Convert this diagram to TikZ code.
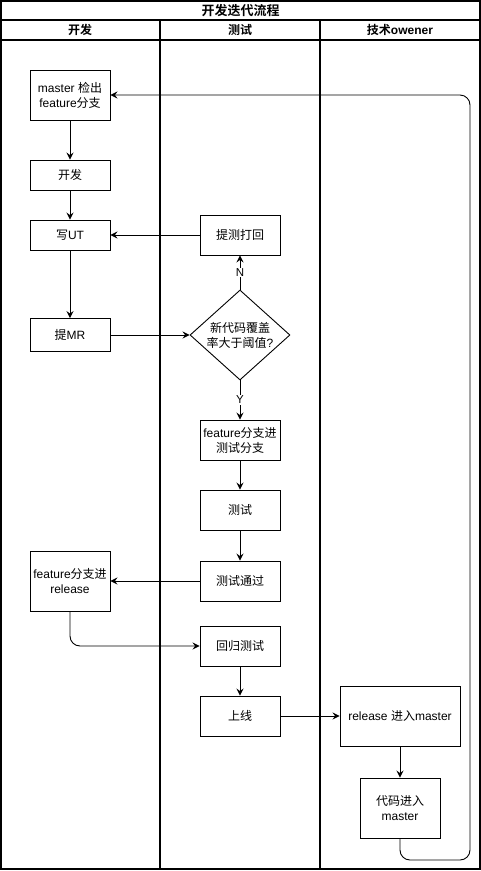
\documentclass[tikz,border=0pt]{standalone}
\usepackage{fontspec}
\setmainfont{Liberation Sans}
\newfontfamily\cjk{Noto Sans CJK SC}[BoldFont={Noto Sans CJK SC Bold}]
\usetikzlibrary{arrows.meta,shapes.geometric}
\begin{document}
\begin{tikzpicture}[x=1pt,y=-1pt,
  box/.style={draw,line width=0.9pt,fill=white,align=center,inner sep=1pt,font=\fontsize{12}{15}\selectfont},
  arr/.style={line width=0.9pt,-{Stealth[length=7pt,width=7pt,inset=2.5pt]}},
  lane/.style={line width=1.1pt},
  lbl/.style={fill=white,inner sep=1pt,font=\fontsize{11.5}{13}\selectfont}]
\useasboundingbox (0,0) rectangle (481,871);
% frame and lanes
\draw[lane] (1,1) rectangle (480,869);
\draw[lane] (1,20) -- (480,20);
\draw[lane] (1,40) -- (480,40);
\draw[lane] (160,20) -- (160,869);
\draw[lane] (320,20) -- (320,869);
\node[font=\bfseries\fontsize{13}{14}\selectfont] (title) at (240.5,10.5) {\cjk 开发迭代流程};
\node[font=\bfseries\fontsize{12}{14}\selectfont] (h1) at (80,30) {\cjk 开发};
\node[font=\bfseries\fontsize{12}{14}\selectfont] (h2) at (240,30) {\cjk 测试};
\node[font=\bfseries\fontsize{12}{14}\selectfont] (h3) at (400,30) {{\cjk 技术}owener};
% nodes
\node[box,minimum width=80pt,minimum height=50pt] (master) at (70,95) {master {\cjk 检出}\\feature{\cjk 分支}};
\node[box,minimum width=80pt,minimum height=30pt] (dev) at (70,175) {\cjk 开发};
\node[box,minimum width=80pt,minimum height=30pt] (ut) at (70,235) {{\cjk 写}UT};
\node[box,minimum width=80pt,minimum height=33pt] (mr) at (70,335) {{\cjk 提}MR};
\node[box,minimum width=80pt,minimum height=40pt] (back) at (240,235) {\cjk 提测打回};
\node[box,diamond,aspect=1.1,inner sep=0pt,minimum width=100pt,minimum height=90pt] (cov) at (240,335) {\cjk 新代码覆盖\\{\cjk 率大于阈值}?};
\node[box,minimum width=80pt,minimum height=40pt] (ftest) at (240,440) {feature{\cjk 分支进}\\{\cjk 测试分支}};
\node[box,minimum width=80pt,minimum height=40pt] (test) at (240,510) {\cjk 测试};
\node[box,minimum width=80pt,minimum height=40pt] (pass) at (240,581) {\cjk 测试通过};
\node[box,minimum width=80pt,minimum height=60pt] (frel) at (70,581) {feature{\cjk 分支进}\\release};
\node[box,minimum width=80pt,minimum height=40pt] (reg) at (240,646) {\cjk 回归测试};
\node[box,minimum width=80pt,minimum height=40pt] (online) at (240,716) {\cjk 上线};
\node[box,minimum width=120pt,minimum height=60pt] (rmaster) at (400,716) {release {\cjk 进入}master};
\node[box,minimum width=80pt,minimum height=60pt] (cmaster) at (400,808) {\cjk 代码进入\\master};
% connectors
\draw[arr] (master) -- (dev);
\draw[arr] (dev) -- (ut);
\draw[arr] (ut) -- (mr);
\draw[arr] (mr) -- (cov);
\draw[arr] (cov) -- node[lbl,pos=0.5] (nlab) {N} (back);
\draw[arr] (back) -- (ut);
\draw[arr] (cov) -- node[lbl,pos=0.5] (ylab) {Y} (ftest);
\draw[arr] (ftest) -- (test);
\draw[arr] (test) -- (pass);
\draw[arr] (pass) -- (frel);
\draw[arr,rounded corners=10pt] (frel.south) |- (reg.west);
\draw[arr] (reg) -- (online);
\draw[arr] (online) -- (rmaster);
\draw[arr] (rmaster) -- (cmaster);
\coordinate (c1) at (400,860);
\coordinate (c2) at (470,860);
\coordinate (c3) at (470,95);
\draw[arr,rounded corners=10pt] (cmaster.south) -- (c1) -- (c2) -- (c3) -- (master.east);
\end{tikzpicture}
\end{document}
